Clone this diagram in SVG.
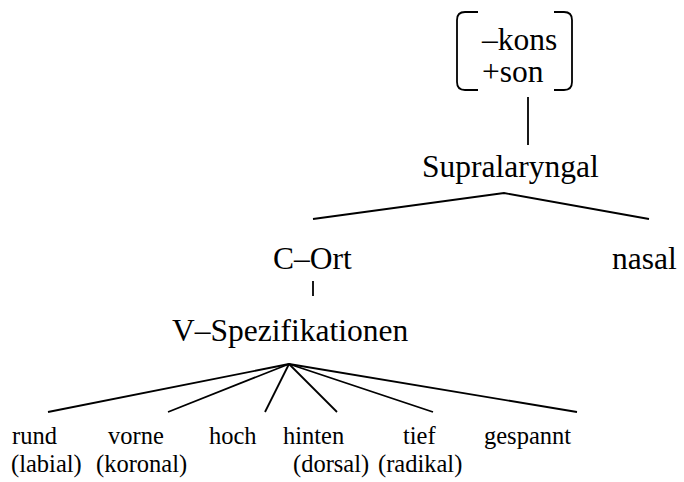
<svg xmlns="http://www.w3.org/2000/svg" width="684" height="482" viewBox="0 0 684 482" font-family="'Liberation Serif', 'Times New Roman', Times, serif">
<style>
text{font-family:'Liberation Serif','Times New Roman',Times,serif;fill:#000}
.big{font-size:31.5px}
.lab{font-size:24.5px}
.ln{stroke:#000;stroke-width:1.8;fill:none}
</style>
<rect width="684" height="482" fill="#fff"/>
<g id="connectors">
<path class="ln" d="M478 12 L465 12 Q457 12 457 20 L457 82 Q457 90 465 90 L478 90"/>
<path class="ln" d="M554 12 L564 12 Q572 12 572 20 L572 82 Q572 90 564 90 L554 90"/>
<line class="ln" x1="528" y1="97" x2="528" y2="145"/>
<polyline class="ln" points="313,219 504,193 649,219"/>
<line class="ln" x1="313" y1="281" x2="313" y2="296"/>
<line class="ln" x1="289" y1="364" x2="48" y2="412"/>
<line class="ln" x1="289" y1="364" x2="168" y2="412"/>
<line class="ln" x1="289" y1="364" x2="265" y2="412"/>
<line class="ln" x1="289" y1="364" x2="337" y2="412"/>
<line class="ln" x1="289" y1="364" x2="433" y2="412"/>
<line class="ln" x1="289" y1="364" x2="577" y2="412"/>
</g>
<g id="features"><text class="big" x="482" y="50">–kons</text><text class="big" x="482" y="82">+son</text></g>
<g id="supralaryngal"><text class="big" x="422" y="177">Supralaryngal</text></g>
<g id="c-ort"><text class="big" x="273" y="269">C–Ort</text></g>
<g id="nasal"><text class="big" x="612" y="269">nasal</text></g>
<g id="v-spez"><text class="big" x="172" y="341">V–Spezifikationen</text></g>
<g id="rund"><text class="lab" x="12" y="444">rund</text><text class="lab" x="11" y="472">(labial)</text></g>
<g id="vorne"><text class="lab" x="108" y="444">vorne</text><text class="lab" x="96" y="472">(koronal)</text></g>
<g id="hoch"><text class="lab" x="209" y="444">hoch</text></g>
<g id="hinten"><text class="lab" x="283" y="444">hinten</text><text class="lab" x="293" y="472">(dorsal)</text></g>
<g id="tief"><text class="lab" x="403" y="444">tief</text><text class="lab" x="378" y="472">(radikal)</text></g>
<g id="gespannt"><text class="lab" x="484" y="444">gespannt</text></g>
</svg>
